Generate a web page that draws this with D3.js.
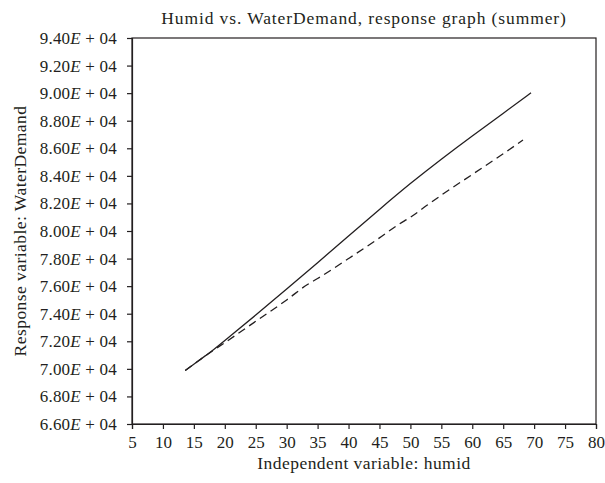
<!DOCTYPE html>
<html><head><meta charset="utf-8">
<script src="https://cdn.jsdelivr.net/npm/d3@7"></script>
<style>
body{margin:0;background:#fff;}
svg text{font-family:"Liberation Serif","DejaVu Serif",serif;fill:#231f20;white-space:pre;}
</style></head>
<body><svg id="c" width="605" height="483"></svg>
<script>
const titleText = "Humid vs. WaterDemand, response graph (summer)";
const xLabel = "Independent variable: humid";
const yLabel = "Response variable: WaterDemand";
const xTicks = [5,10,15,20,25,30,35,40,45,50,55,60,65,70,75,80];
const yTicks = [66000,68000,70000,72000,74000,76000,78000,80000,82000,84000,86000,88000,90000,92000,94000];

// solid curve
const solidX = [13.6,15,17,18,20,25,30,35,40,45,50,55,60,65,69.5];
const solidY = [69880,70340,71000,71320,72050,73900,75780,77700,79640,81570,83460,85220,86900,88530,90030];
// dashed curve
const dashX = [13.6,15,18,20,25,30,33.3,35,40,45,48,50,52.8,55,60,65,68.2];
const dashY = [69880,70340,71300,71900,73450,75000,76100,76550,78000,79500,80450,81000,81900,82600,84100,85600,86600];

const svg = d3.select("#c");
const L=132, R=596, T=38, B=424;
const x = d3.scaleLinear().domain([5,80]).range([L,R]);
const y = d3.scaleLinear().domain([66000,94000]).range([B,T]);
const ink = "#231f20";

// frame
svg.append("rect").attr("x",L).attr("y",T).attr("width",R-L).attr("height",B-T)
  .attr("fill","none").attr("stroke",ink).attr("stroke-width",1.2);

const xa = svg.append("g").attr("transform",`translate(0,${B})`)
  .call(d3.axisBottom(x).tickValues(xTicks).tickSize(5).tickPadding(7).tickFormat(d3.format("d")));
const ya = svg.append("g").attr("transform",`translate(${L},0)`)
  .call(d3.axisLeft(y).tickValues(yTicks).tickSize(5).tickPadding(10));
[xa,ya].forEach(g=>{
  g.select(".domain").attr("stroke",ink).attr("stroke-width",1.2);
  g.selectAll(".tick line").attr("stroke",ink).attr("stroke-width",1.2);
  g.selectAll("text").attr("font-size",17).attr("font-family",null).attr("fill",ink);
});
ya.selectAll(".tick text").attr("letter-spacing",0.2).each(function(d){
  const t = d3.select(this).text(null);
  t.append("tspan").text((d/1e4).toFixed(2));
  t.append("tspan").attr("font-style","italic").text("E");
  t.append("tspan").text(" + 04");
});

const solidLine = d3.line().x(d=>x(d[0])).y(d=>y(d[1])).curve(d3.curveBasis);
const dashLine = d3.line().x(d=>x(d[0])).y(d=>y(d[1])).curve(d3.curveMonotoneX);
svg.append("path").datum(solidX.map((v,i)=>[v,solidY[i]])).attr("d",solidLine)
  .attr("fill","none").attr("stroke",ink).attr("stroke-width",1.3);
svg.append("path").datum(dashX.map((v,i)=>[v,dashY[i]])).attr("d",dashLine)
  .attr("fill","none").attr("stroke",ink).attr("stroke-width",1.3).attr("stroke-dasharray","8,5");

svg.append("text").attr("x",(L+R)/2).attr("y",24).attr("text-anchor","middle")
  .attr("font-size",17.5).attr("letter-spacing",0.9).text(titleText);
svg.append("text").attr("x",(L+R)/2).attr("y",469).attr("text-anchor","middle")
  .attr("font-size",17.5).attr("letter-spacing",0.45).text(xLabel);
svg.append("text").attr("transform",`translate(26,${(T+B)/2}) rotate(-90)`).attr("text-anchor","middle")
  .attr("font-size",17.5).attr("letter-spacing",0.45).text(yLabel);
</script></body></html>
